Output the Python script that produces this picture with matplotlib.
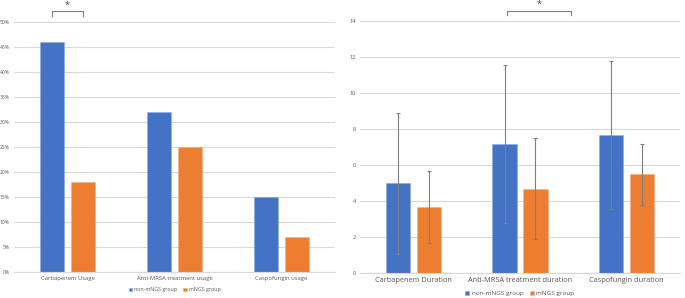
import matplotlib
matplotlib.use("Agg")
import matplotlib.pyplot as plt
import numpy as np
from matplotlib.ticker import FuncFormatter

usage_categories = ["Carbapenem Usage", "Anti-MRSA treatment usage", "Caspofungin usage"]
usage_non_mngs = [46, 32, 15]
usage_mngs = [18, 25, 7]

duration_categories = ["Carbapenem Duration", "Anti-MRSA treatment duration", "Caspofungin duration"]
duration_non_mngs = [5.0, 7.2, 7.7]
duration_non_mngs_sd = [3.9, 4.4, 4.1]
duration_mngs = [3.7, 4.7, 5.5]
duration_mngs_sd = [2.0, 2.8, 1.7]

series_labels = ["non-mNGS group", "mNGS group"]

BLUE = "#4472C4"
ORANGE = "#ED7D31"
GRID = "#D9D9D9"
TXT = "#595959"

plt.rcParams['font.family'] = ['Open Sans', 'DejaVu Sans']

W, H = 685, 298
fig = plt.figure(figsize=(W / 100, H / 100), dpi=100)

def ax_rect(x0, x1, ytop, ybot):
    return [x0 / W, (H - ybot) / H, (x1 - x0) / W, (ybot - ytop) / H]

ax1 = fig.add_axes(ax_rect(14, 335, 22, 272))
ax2 = fig.add_axes(ax_rect(360, 680, 21.3, 273.3))

bw = 0.228
off = 0.145

def style(ax, fs_tick, fs_cat):
    for s in ["left", "right", "top"]:
        ax.spines[s].set_visible(False)
    ax.spines["bottom"].set_color(GRID)
    ax.spines["bottom"].set_linewidth(0.8)
    ax.tick_params(axis="both", length=0, colors=TXT)
    ax.tick_params(axis="y", labelsize=fs_tick, pad=3)
    ax.tick_params(axis="x", labelsize=fs_cat, pad=3)
    ax.yaxis.grid(True, color=GRID, linewidth=0.8)
    ax.set_axisbelow(True)

# Left chart
x = np.arange(len(usage_categories))
ax1.bar(x - off, usage_non_mngs, bw, color=BLUE, edgecolor="#8FAADC", linewidth=0.4, label=series_labels[0])
ax1.bar(x + off, usage_mngs, bw, color=ORANGE, edgecolor="#F4B183", linewidth=0.4, label=series_labels[1])
ax1.set_xlim(-0.5, 2.5)
ax1.set_ylim(0, 50)
ax1.set_yticks(np.arange(0, 51, 5))
ax1.yaxis.set_major_formatter(FuncFormatter(lambda v, p: f"{int(v)}%"))
ax1.set_xticks(x)
ax1.set_xticklabels(usage_categories)
style(ax1, 3.6, 4.2)

# bracket left
bx0, bx1 = -off, off
ax1.plot([bx0, bx0, bx1, bx1], [51.3, 52.2, 52.2, 51.3], color="#7F7F7F", lw=0.8, clip_on=False)
ax1.text(0, 53.4, "*", ha="center", va="center", fontsize=6.5, color="#404040")

ax1.legend(loc="upper center", bbox_to_anchor=(0.5, -0.042), ncol=2, frameon=False,
           fontsize=3.8, handlelength=0.6, handleheight=0.6, handletextpad=0.4,
           columnspacing=1.2, labelcolor=TXT)

# Right chart
x2 = np.arange(len(duration_categories))
ekw = dict(ecolor="#7F7F7F", elinewidth=0.8, capsize=1.5, capthick=0.8)
ax2.bar(x2 - off, duration_non_mngs, bw, color=BLUE, edgecolor="#8FAADC", linewidth=0.4,
        yerr=duration_non_mngs_sd, error_kw=ekw, label=series_labels[0])
ax2.bar(x2 + off, duration_mngs, bw, color=ORANGE, edgecolor="#F4B183", linewidth=0.4,
        yerr=duration_mngs_sd, error_kw=ekw, label=series_labels[1])
ax2.set_xlim(-0.5, 2.5)
ax2.set_ylim(0, 14)
ax2.set_yticks(np.arange(0, 15, 2))
ax2.set_xticks(x2)
ax2.set_xticklabels(duration_categories)
style(ax2, 4.0, 5.3)

ax2.plot([0.88, 0.88, 1.48, 1.48], [14.35, 14.57, 14.57, 14.35], color="#7F7F7F", lw=0.8, clip_on=False)
ax2.text(1.18, 14.92, "*", ha="center", va="center", fontsize=6.5, color="#404040")

ax2.legend(loc="upper center", bbox_to_anchor=(0.5, -0.047), ncol=2, frameon=False,
           fontsize=4.6, handlelength=0.6, handleheight=0.6, handletextpad=0.4,
           columnspacing=1.0, labelcolor=TXT)

fig.savefig("out.png", dpi=100)
